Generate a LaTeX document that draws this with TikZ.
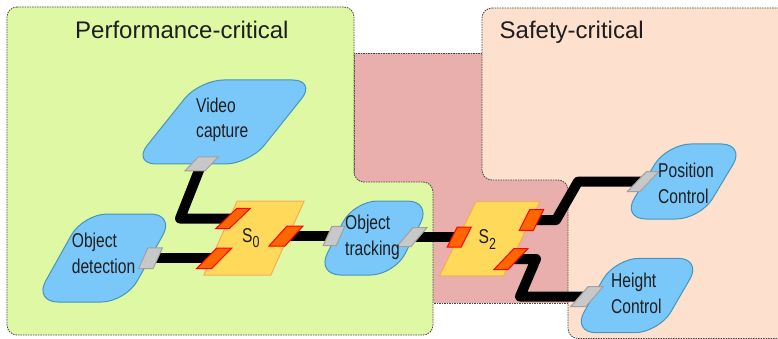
\documentclass[tikz,border=0pt]{standalone}
\usepackage{fontspec}
\setmainfont{Liberation Sans}
\newfontfamily\narrowfont{Liberation Sans}[FakeStretch=0.78]
\pgfdeclarelayer{bg}
\pgfdeclarelayer{wires}
\pgfsetlayers{bg,wires,main}
\definecolor{greenreg}{RGB}{223,248,164}
\definecolor{pinkreg}{RGB}{232,175,172}
\definecolor{salmonreg}{RGB}{254,224,206}
\definecolor{blobfill}{RGB}{122,199,250}
\definecolor{blobline}{RGB}{70,150,185}
\definecolor{swfill}{RGB}{255,218,90}
\definecolor{swline}{RGB}{248,172,90}
\definecolor{rpfill}{RGB}{255,102,0}
\definecolor{rpline}{RGB}{255,0,0}
\definecolor{gpfill}{RGB}{200,200,200}
\definecolor{gpline}{RGB}{160,160,160}
\definecolor{regline}{RGB}{70,70,70}
\definecolor{txt}{RGB}{30,30,30}
\tikzset{
  region/.style={draw=regline, line width=0.8pt, dash pattern=on 1.5pt off 1pt},
  blob/.style={draw=blobline, fill=blobfill, line width=1pt, rectangle, inner sep=0pt, rounded corners=24pt},
  switchbox/.style={draw=swline, fill=swfill, line width=1pt, rectangle, inner sep=0pt},
  rport/.style={draw=rpline, fill=rpfill, line width=1pt, rectangle, inner sep=0pt, minimum width=14pt, minimum height=20pt, xslant=0.5},
  gport/.style={draw=gpline, fill=gpfill, line width=1pt, rectangle, inner sep=0pt, minimum width=14pt, minimum height=20pt, xslant=0.45},
  lbl/.style={font=\narrowfont\fontsize{20}{25.5}\selectfont, text=txt, align=left, inner sep=0pt},
  title/.style={font=\fontsize{24}{28}\selectfont, text=txt, inner sep=0pt},
  wire/.style={line width=10pt, black, line join=round}
}
\begin{document}
\begin{tikzpicture}[x=1pt, y=-1pt]
\useasboundingbox (0,0) rectangle (778,339);
\begin{pgfonlayer}{bg}
  \fill[white] (0,0) rectangle (778,339);
  \begin{scope}
    \clip (0,0) rectangle (778,339);
    \path[region, fill=pinkreg] (354,53) rectangle (568,303);
    \path[region, fill=greenreg, rounded corners=10pt] (7,7) -- (354,7) -- (354,182) -- (433,182) -- (433,335) -- (7,335) -- cycle;
    \path[region, fill=salmonreg, rounded corners=10pt] (482,8) -- (795,8) -- (795,338.5) -- (568,338.5) -- (568,180) -- (482,180) -- cycle;
  \end{scope}
\end{pgfonlayer}

% titles
\node[title, anchor=base west] (pt) at (75,39) {Performance-critical};
\node[title, anchor=base west] (st) at (499.5,39) {Safety-critical};

% blobs
\node[blob, xslant=0.8, minimum width=117pt, minimum height=84pt] (vcs) at (224.4,122) {};
\node[blob, xslant=0.56, minimum width=91.5pt, minimum height=88pt] (ods) at (104.3,258) {};
\node[blob, xslant=0.5, minimum width=78pt, minimum height=74pt] (ots) at (374,238) {};
\node[blob, xslant=0.6, minimum width=78.4pt, minimum height=75pt] (pcs) at (683.6,181.5) {};
\node[blob, xslant=0.58, minimum width=86.7pt, minimum height=74.4pt] (hcs) at (637,295.5) {};

% switches
\node[switchbox, xslant=0.45, minimum width=67pt, minimum height=74pt] (s0) at (254,238) {};
\node[switchbox, xslant=0.49, minimum width=64pt, minimum height=74.3pt] (s2) at (489.7,238.8) {};

% red ports
\node[rport, xslant=0.54, minimum width=13.5pt, minimum height=20.3pt] (s0a) at (233,218.5) {};
\node[rport, xslant=0.49, minimum width=15pt, minimum height=20.6pt] (s0b) at (214.2,258.3) {};
\node[rport, xslant=0.4, minimum width=16pt] (s0c) at (286,236) {};
\node[rport] (s2a) at (459.3,237) {};
\node[rport, minimum height=20.7pt] (s2b) at (531.5,220) {};
\node[rport, xslant=0.45, minimum height=21pt] (s2c) at (511,259) {};

% gray ports
\node[gport, minimum width=20pt, minimum height=14pt, xslant=0.5] (vcp) at (201.5,164) {};
\node[gport, minimum width=14.5pt, minimum height=20.7pt] (odp) at (150.5,258.3) {};
\node[gport, minimum width=13pt, minimum height=19.3pt] (otl) at (334,236) {};
\node[gport, minimum width=14pt, minimum height=19pt, xslant=0.4] (otr) at (412,237) {};
\node[gport, minimum width=12.5pt, minimum height=20pt, xslant=0.5] (pcp) at (643,181.7) {};
\node[gport, minimum width=15pt, minimum height=20pt, xslant=0.42] (hcp) at (587,296.5) {};

% wires
\begin{pgfonlayer}{wires}
  \draw[wire] (vcp.center) -- (180,218.5) -- (s0a.center);
  \draw[wire] (odp.center) -- (s0b.center);
  \draw[wire] (s0c.center) -- (otl.center);
  \draw[wire] (otr.center) -- (s2a.center);
  \draw[wire] (s2b.center) -- (556,220) -- (578,181.7) -- (pcp.center);
  \draw[wire] (s2c.center) -- (536,259) -- (520,296.5) -- (hcp.center);
\end{pgfonlayer}

% labels (base = baseline of the last line)
\node[lbl, anchor=base west] (vc) at (196,138) {Video\\capture};
\node[lbl, anchor=base west] (od) at (71.7,273) {Object\\detection};
\node[lbl, anchor=base west] (ot) at (345,255) {Object\\tracking};
\node[lbl, anchor=base west] (pc) at (658,203.3) {Position\\Control};
\node[lbl, anchor=base west] (hc) at (611,313.3) {Height\\Control};
\node[lbl, anchor=base west] (s0t) at (242,242.5) {S\raisebox{-5pt}{\fontsize{16}{16}\selectfont 0}};
\node[lbl, anchor=base west] (s2t) at (478.5,243) {S\raisebox{-6pt}{\fontsize{16}{16}\selectfont 2}};
\end{tikzpicture}
\end{document}
